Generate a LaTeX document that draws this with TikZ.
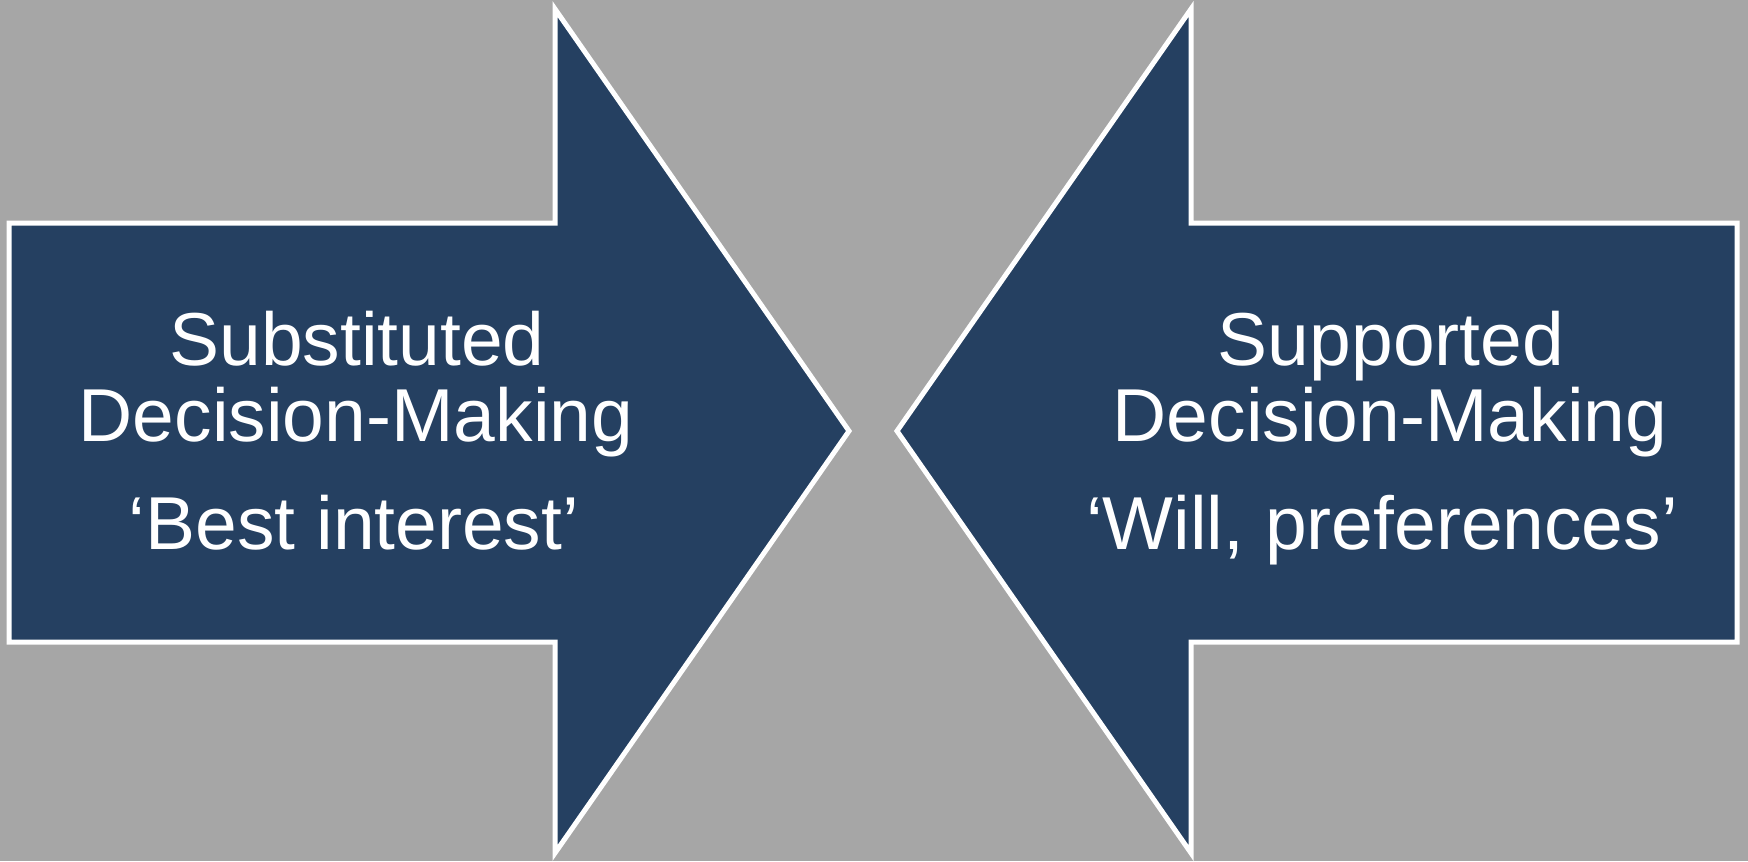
\documentclass[tikz,border=0pt]{standalone}
\usepackage{fontspec}
\setmainfont{Liberation Sans}
\usepackage{tikz}

\definecolor{bggray}{HTML}{A6A6A6}
\definecolor{navy}{HTML}{254061}

\begin{document}
\begin{tikzpicture}[x=0.5pt, y=-0.5pt,
        arrowbox/.style={fill=navy, draw=white, line width=2.5pt, line join=miter},
        label/.style={anchor=base, text=white, inner sep=0pt, font=\fontsize{37.5}{44}\selectfont}]
        % Background
        \fill[bggray] (0, 0) rectangle (1748, 861);
        \useasboundingbox (0, 0) rectangle (1748, 861);

        % Left arrow
        \draw[arrowbox] (9, 223) -- (555, 223) -- (555, 9) -- (849, 431)
            -- (555, 853) -- (555, 642) -- (9, 642) -- cycle;

        % Right arrow
        \draw[arrowbox] (1737, 223) -- (1191, 223) -- (1191, 9) -- (897, 431)
            -- (1191, 853) -- (1191, 642) -- (1737, 642) -- cycle;

        % Left text
        \node[label] (sub1) at (357, 365) {Substituted};
        \node[label] (sub2) at (356, 441) {Decision-Making};
        \node[label] (sub3) at (354, 549) {‘Best interest’};

        % Right text
        \node[label] (sup1) at (1391, 365) {Supported};
        \node[label] (sup2) at (1390, 441) {Decision-Making};
        \node[label] (sup3) at (1382, 549) {‘Will, preferences’};
    \end{tikzpicture}
\end{document}
